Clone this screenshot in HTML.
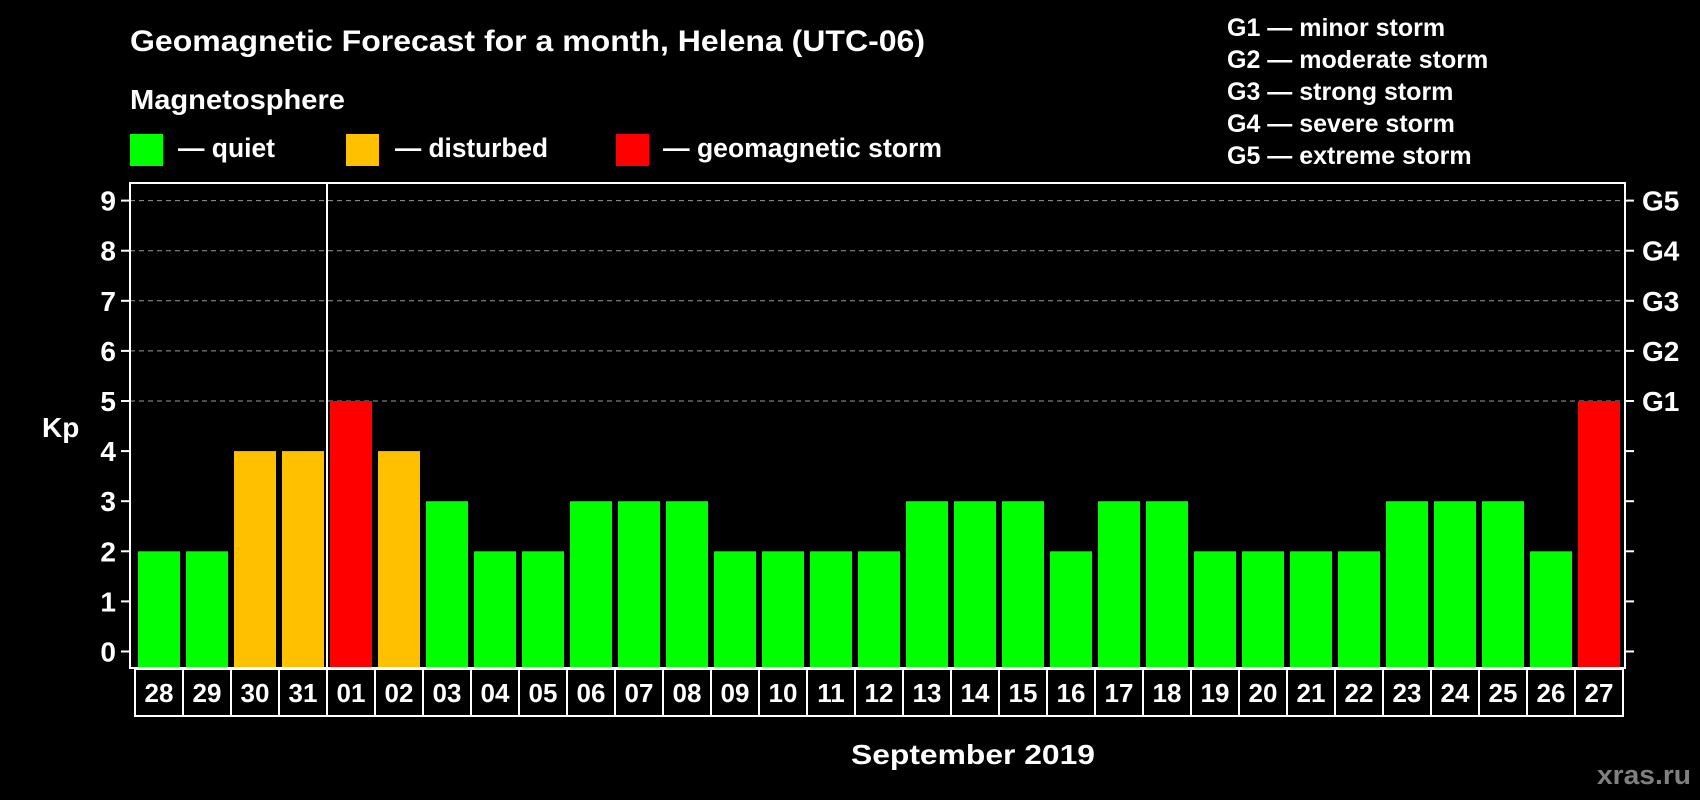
<!DOCTYPE html>
<html><head><meta charset="utf-8"><style>
html,body{margin:0;padding:0;background:#000;}
svg{display:block;font-family:"Liberation Sans",sans-serif;font-weight:bold;}
</style></head><body>
<svg id="chart" width="1700" height="800" viewBox="0 0 1700 800" xmlns="http://www.w3.org/2000/svg">
<rect width="1700" height="800" fill="#000"/>
<text x="130" y="51" fill="#fff" font-size="30" textLength="795" lengthAdjust="spacingAndGlyphs">Geomagnetic Forecast for a month, Helena (UTC-06)</text>
<text x="130" y="109" fill="#fff" font-size="28" textLength="215" lengthAdjust="spacingAndGlyphs">Magnetosphere</text>
<g>
<rect x="130" y="134" width="33" height="32" fill="#00ff00"/>
<text x="178" y="157" fill="#fff" font-size="27" textLength="97" lengthAdjust="spacingAndGlyphs">— quiet</text>
</g>
<g>
<rect x="346" y="134" width="33" height="32" fill="#ffc000"/>
<text x="395" y="157" fill="#fff" font-size="27" textLength="153" lengthAdjust="spacingAndGlyphs">— disturbed</text>
</g>
<g>
<rect x="616" y="134" width="33" height="32" fill="#ff0000"/>
<text x="663" y="157" fill="#fff" font-size="27" textLength="279" lengthAdjust="spacingAndGlyphs">— geomagnetic storm</text>
</g>
<g fill="#fff" font-size="25">
<text x="1227" y="36">G1 — minor storm</text>
<text x="1227" y="68">G2 — moderate storm</text>
<text x="1227" y="100">G3 — strong storm</text>
<text x="1227" y="132">G4 — severe storm</text>
<text x="1227" y="164">G5 — extreme storm</text>
</g>
<g id="grid"></g>
<g id="bars"></g>
<g id="axes"></g>
<text x="42" y="437" fill="#fff" font-size="28">Kp</text>
<text x="851" y="764" fill="#fff" font-size="28" textLength="244" lengthAdjust="spacingAndGlyphs">September 2019</text>
<text x="1597" y="784" fill="#808080" font-size="27" textLength="94" lengthAdjust="spacingAndGlyphs">xras.ru</text>
</svg>
<script>
const dayLabels = ["28","29","30","31","01","02","03","04","05","06","07","08","09","10","11","12","13","14","15","16","17","18","19","20","21","22","23","24","25","26","27"];
const kpValues = [2,2,4,4,5,4,3,2,2,3,3,3,2,2,2,2,3,3,3,2,3,3,2,2,2,2,3,3,3,2,5];
const yTicks = [0,1,2,3,4,5,6,7,8,9];
const gLabels = ["G1","G2","G3","G4","G5"];
const gLevels = [5,6,7,8,9];
const monthStartIndex = 4;

const NS = "http://www.w3.org/2000/svg";
const plotL = 130, plotR = 1625, plotT = 183, plotB = 668;
const y0 = 651.5, unit = 50.1;
const barX0 = 138, pitch = 48, barW = 42;
function yScale(v){ return y0 - v*unit; }
function xScale(i){ return barX0 + i*pitch; }
function mk(tag, attrs, parent){ const e=document.createElementNS(NS,tag); for(const k in attrs) e.setAttribute(k,attrs[k]); parent.appendChild(e); return e; }
function color(v){ return v>=5 ? "#ff0000" : (v>=4 ? "#ffc000" : "#00ff00"); }

const grid=document.getElementById("grid"), bars=document.getElementById("bars"), axes=document.getElementById("axes");
gLevels.forEach(v=>{
  const l=mk("line",{x1:plotL,x2:plotR,y1:yScale(v),y2:yScale(v),stroke:"#999","stroke-width":1,"stroke-dasharray":"5,4"},grid);
  
  
});
kpValues.forEach((v,i)=>{
  const r=mk("rect",{x:xScale(i),y:yScale(v),width:barW,height:plotB-yScale(v)-1,fill:color(v)},bars);
  
  
});
const frame=mk("rect",{x:plotL,y:plotT,width:plotR-plotL,height:plotB-plotT,fill:"none",stroke:"#fff","stroke-width":2},axes);


const sepX = xScale(monthStartIndex) - 3;
const sep=mk("line",{x1:sepX,x2:sepX,y1:plotT,y2:plotB,stroke:"#fff","stroke-width":2},axes);


yTicks.forEach(v=>{
  const y=yScale(v);
  const t1=mk("line",{x1:121,x2:plotL,y1:y,y2:y,stroke:"#fff","stroke-width":2},axes);
  
  
  const t2=mk("line",{x1:plotR,x2:1634,y1:y,y2:y,stroke:"#fff","stroke-width":2},axes);
  
  
  const tx=mk("text",{x:116,y:y+10,fill:"#fff","font-size":28,"text-anchor":"end"},axes);
  tx.textContent=String(v);
  
  
});
gLabels.forEach((g,i)=>{
  const tx=mk("text",{x:1642,y:yScale(gLevels[i])+10,fill:"#fff","font-size":28},axes);
  tx.textContent=g;
  
  
});
dayLabels.forEach((d,i)=>{
  const cx=xScale(i)-3;
  const c=mk("rect",{x:cx,y:plotB+1,width:pitch,height:47,fill:"none",stroke:"#fff","stroke-width":2},axes);
  
  
  const tx=mk("text",{x:cx+pitch/2,y:702,fill:"#fff","font-size":26,"text-anchor":"middle"},axes);
  tx.textContent=d;
  
  
});
</script>
</body></html>
